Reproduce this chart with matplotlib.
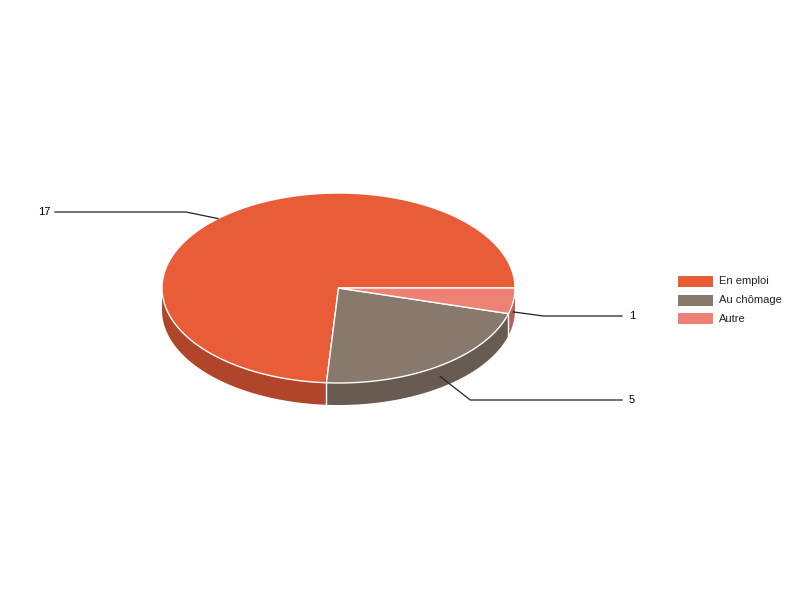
import numpy as np
import matplotlib
matplotlib.use('Agg')
from matplotlib import pyplot as plt
from matplotlib.patches import Polygon, Rectangle

plt.rcParams['font.family'] = ['Liberation Sans', 'DejaVu Sans']

labels = ['En emploi', 'Au chômage', 'Autre']
values = [17, 5, 1]
top_colors = ['#E85D37', '#89786C', '#EC8174']
side_colors = ['#B0452A', '#685B52', '#B3625A']

# layout of the tilted pie (pixel space)
cx, cy = 338.5, 288.0
rx, ry = 176.5, 95.0
depth = 22.0


def ellipse_pts(a0, a1, dy=0.0, n=200):
    t = np.linspace(a0, a1, n)
    return np.column_stack([cx + rx * np.cos(t), cy - ry * np.sin(t) + dy])


fig = plt.figure(figsize=(8, 6), dpi=100)
ax = fig.add_axes([0, 0, 1, 1])
ax.set_xlim(0, 800)
ax.set_ylim(600, 0)
ax.axis('off')

fracs = np.array(values) / sum(values)
edges = np.concatenate([[0], np.cumsum(fracs)]) * 2 * np.pi

# sides (only the front half, angles between pi and 2pi, is visible)
for i in range(len(values)):
    a0 = max(edges[i], np.pi)
    a1 = min(edges[i + 1], 2 * np.pi)
    if a1 <= a0:
        continue
    top = ellipse_pts(a0, a1)
    bot = ellipse_pts(a0, a1, depth)[::-1]
    ax.add_patch(Polygon(np.vstack([top, bot]), closed=True, facecolor=side_colors[i],
                         edgecolor='none', zorder=1))

# white seams on the side at slice boundaries
for a in edges[1:-1]:
    if np.pi < a < 2 * np.pi:
        x, y = cx + rx * np.cos(a), cy - ry * np.sin(a)
        ax.plot([x, x], [y, y + depth], color='white', lw=1, zorder=2)

# top faces
for i in range(len(values)):
    pts = np.vstack([[cx, cy], ellipse_pts(edges[i], edges[i + 1])])
    ax.add_patch(Polygon(pts, closed=True, facecolor=top_colors[i], edgecolor='white',
                         lw=1, joinstyle='round', zorder=3))

# value labels with leader lines
label_y = [212, 400, 316]
for i, v in enumerate(values):
    mid = (edges[i] + edges[i + 1]) / 2
    ax_x = cx + rx * np.cos(mid)
    ax_y = cy - ry * np.sin(mid)
    if np.sin(mid) < 0:
        ax_y += depth / 2
    if np.cos(mid) < 0:
        elbow_x, end_x = ax_x - 32, 55
        ax.text(50, label_y[i], str(v), ha='right', va='center', fontsize=8)
    else:
        elbow_x, end_x = ax_x + 30, 622
        ax.text(629, label_y[i], str(v), ha='left', va='center', fontsize=8)
    ax.plot([ax_x, elbow_x, end_x], [ax_y, label_y[i], label_y[i]], color='#222222',
            lw=0.9, zorder=4)

# legend
for i, name in enumerate(labels):
    y = 276 + i * 18.5
    ax.add_patch(Rectangle((678, y), 35, 11, facecolor=top_colors[i], edgecolor='none'))
    ax.text(719, y + 5.5, name, ha='left', va='center', fontsize=8, color='#222222')

fig.savefig('out.png', dpi=100)
